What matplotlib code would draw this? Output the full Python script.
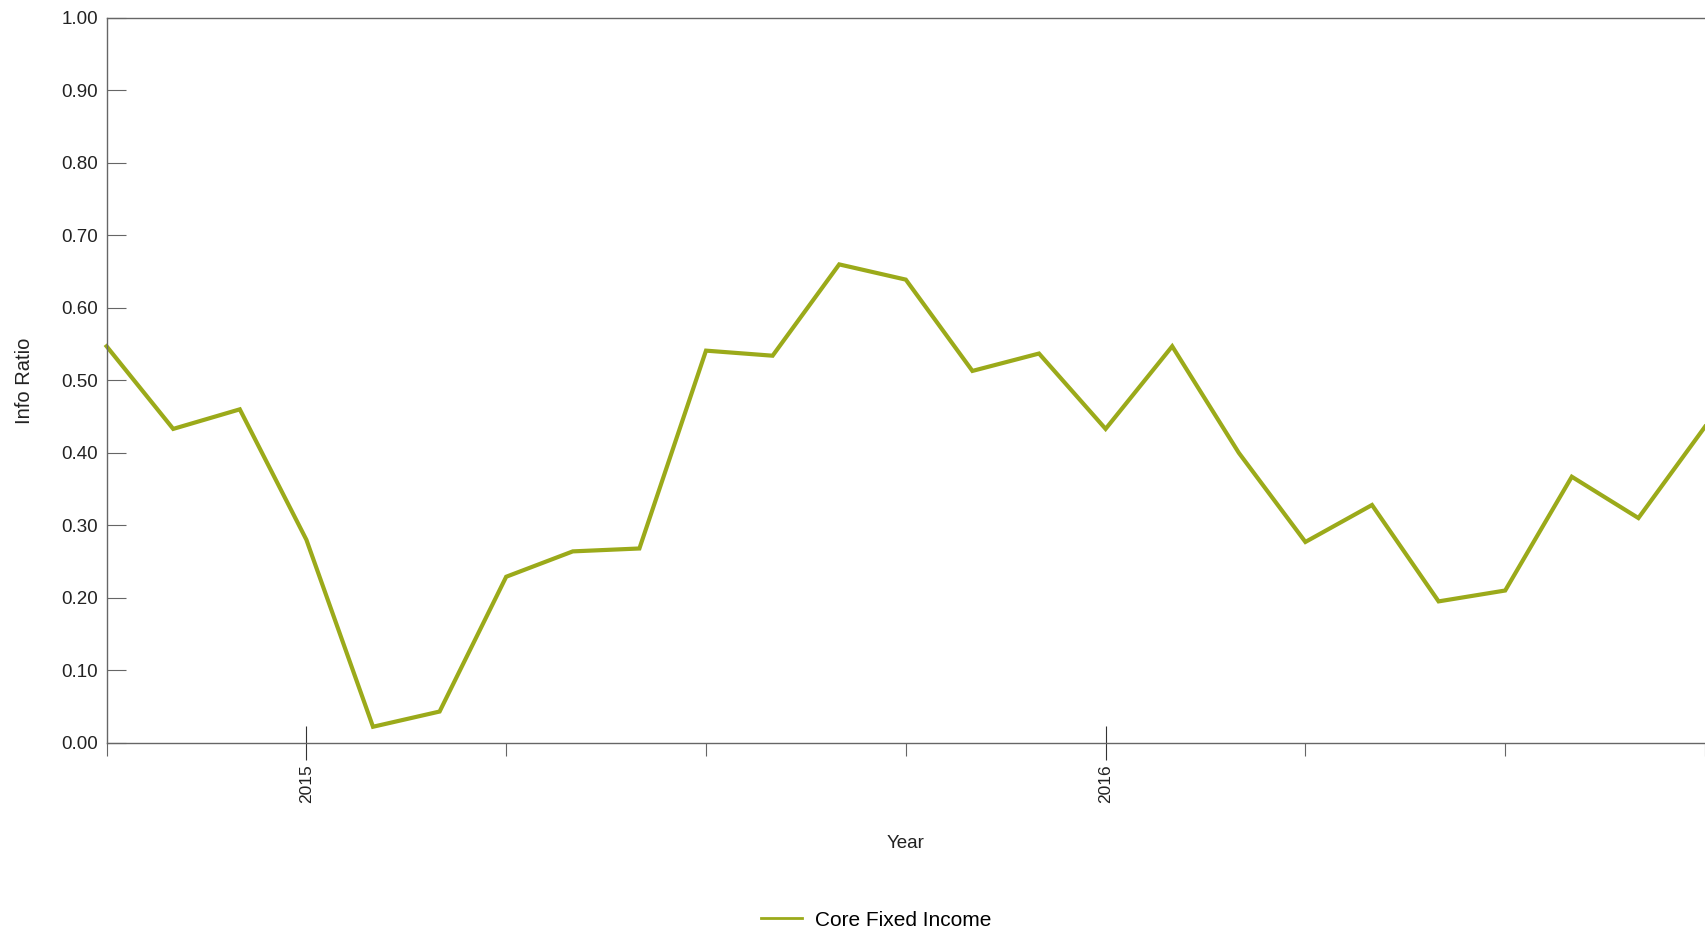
import matplotlib
matplotlib.use("Agg")
import matplotlib.pyplot as plt

months = ["2014-10", "2014-11", "2014-12", "2015-01", "2015-02", "2015-03",
          "2015-04", "2015-05", "2015-06", "2015-07", "2015-08", "2015-09",
          "2015-10", "2015-11", "2015-12", "2016-01", "2016-02", "2016-03",
          "2016-04", "2016-05", "2016-06", "2016-07", "2016-08", "2016-09",
          "2016-10"]
info_ratio = [0.547, 0.433, 0.460, 0.280, 0.022, 0.043, 0.229, 0.264, 0.268,
              0.541, 0.534, 0.660, 0.639, 0.513, 0.537, 0.433, 0.547, 0.400,
              0.277, 0.328, 0.195, 0.210, 0.367, 0.310, 0.436]
series_name = "Core Fixed Income"
y_ticks = [0.0, 0.1, 0.2, 0.3, 0.4, 0.5, 0.6, 0.7, 0.8, 0.9, 1.0]
year_ticks = ["2015-01", "2016-01"]
quarter_ticks = ["2014-10", "2015-04", "2015-07", "2015-10", "2016-04", "2016-07", "2016-10"]

x = list(range(len(months)))
pos = {m: i for i, m in enumerate(months)}

narrow = ["Liberation Sans Narrow", "Liberation Sans", "DejaVu Sans"]
regular = ["Liberation Sans", "DejaVu Sans"]
color = "#9BAA1A"
axis_col = "#666666"

fig = plt.figure(figsize=(17.05, 9.31), dpi=100)
ax = fig.add_axes([106.6 / 1705, 1 - 742.7 / 931, 1 - 106.6 / 1705, (742.7 - 18) / 931])

line, = ax.plot(x, info_ratio, color=color, lw=3.0, solid_joinstyle="miter", clip_on=False)

ax.set_xlim(x[0], x[-1])
ax.set_ylim(0, 1)

ax.spines["right"].set_visible(False)
for s in ["left", "top", "bottom"]:
    ax.spines[s].set_color(axis_col)
    ax.spines[s].set_linewidth(1.0)

ax.set_yticks(y_ticks)
ax.set_yticklabels([f"{v:.2f}" for v in y_ticks], fontfamily=narrow, fontsize=13.5, color="#222222")
ax.tick_params(axis="y", direction="in", length=14, width=0.8, color=axis_col, pad=6)

ax.set_xticks([pos[t] for t in year_ticks])
ax.set_xticklabels([t[:4] for t in year_ticks], rotation=90, fontfamily=regular, fontsize=12.5, color="#222222")
ax.tick_params(axis="x", which="major", direction="inout", length=25, width=0.8, color="#333333", pad=3)
ax.set_xticks([pos[t] for t in quarter_ticks], minor=True)
ax.tick_params(axis="x", which="minor", direction="out", length=9, width=0.8, color=axis_col)

ax.set_xlabel("Year", fontfamily=regular, fontsize=13.5, color="#222222", labelpad=23)
ax.set_ylabel("Info Ratio", fontfamily=regular, fontsize=14.5, color="#222222", labelpad=20)

leg = fig.legend([line], [series_name], loc="center", bbox_to_anchor=(876 / 1705, 1 - 920 / 931),
                 frameon=False, prop={"family": regular, "size": 15}, handlelength=2.0,
                 handletextpad=0.6)
leg.get_lines()[0].set_linewidth(2)

fig.savefig("out.png", dpi=100)
